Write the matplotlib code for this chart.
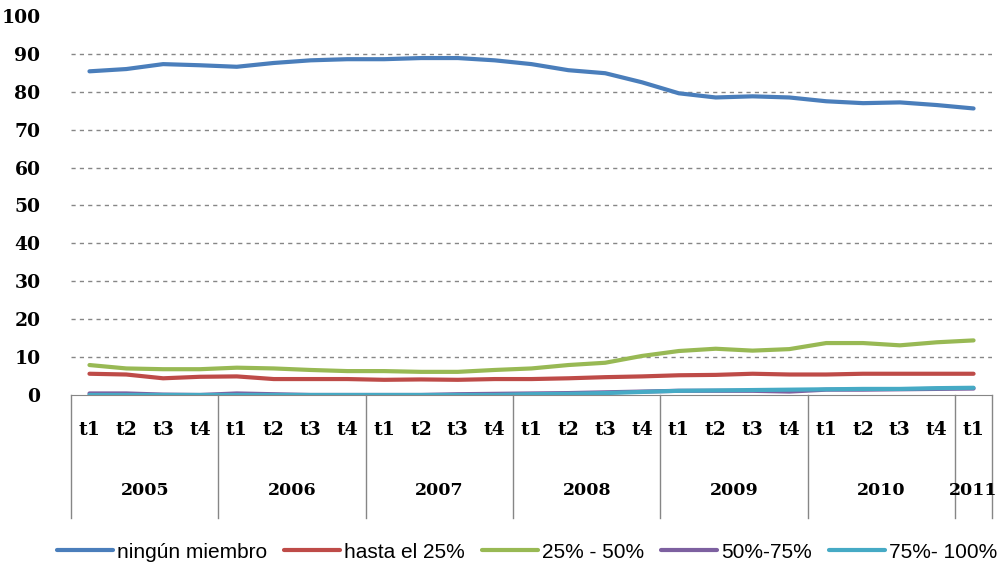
import matplotlib
matplotlib.use('Agg')
import matplotlib.pyplot as plt
import matplotlib.transforms as mtransforms

# data
years = ['2005', '2006', '2007', '2008', '2009', '2010', '2011']
quarters = ['t1', 't2', 't3', 't4'] * 6 + ['t1']

ninguno = [85.4, 86.0, 87.3, 87.0, 86.6, 87.6, 88.3, 88.6, 88.6, 88.9, 88.9, 88.3,
           87.3, 85.7, 84.9, 82.5, 79.6, 78.5, 78.8, 78.5, 77.5, 77.0, 77.2, 76.5, 75.6]
hasta25 = [5.6, 5.4, 4.4, 4.8, 4.9, 4.2, 4.2, 4.2, 4.0, 4.1, 4.0, 4.2,
           4.2, 4.4, 4.7, 4.9, 5.2, 5.3, 5.6, 5.4, 5.4, 5.6, 5.6, 5.6, 5.6]
p25_50 = [7.9, 7.0, 6.8, 6.8, 7.2, 7.0, 6.6, 6.3, 6.3, 6.1, 6.1, 6.6,
          7.0, 7.9, 8.5, 10.3, 11.6, 12.2, 11.7, 12.1, 13.7, 13.7, 13.1, 13.9, 14.4]
p50_75 = [0.4, 0.4, 0.1, 0.0, 0.4, 0.2, 0.0, 0.0, 0.0, 0.0, 0.2, 0.3,
          0.4, 0.5, 0.7, 0.9, 1.1, 1.1, 1.1, 0.9, 1.4, 1.4, 1.5, 1.6, 1.7]
p75_100 = [0.0, 0.0, 0.0, 0.0, 0.0, 0.0, 0.0, 0.0, 0.0, 0.0, 0.0, 0.0,
           0.2, 0.3, 0.5, 0.8, 1.1, 1.2, 1.3, 1.4, 1.5, 1.6, 1.6, 1.8, 1.9]

series = [
    ('ningún miembro', ninguno, '#4A7EBB'),
    ('hasta el 25%', hasta25, '#BE4B48'),
    ('25% - 50%', p25_50, '#98B954'),
    ('50%-75%', p50_75, '#7D60A0'),
    ('75%- 100%', p75_100, '#46AAC5'),
]

fig = plt.figure(figsize=(10.02, 5.67), dpi=100)
ax = fig.add_axes([0.0709, 0.3034, 0.9191, 0.6684])

x = list(range(len(quarters)))
# gridlines 10..90 only (none at the top)
ax.hlines(range(10, 100, 10), -0.5, len(quarters) - 0.5, colors='#868686',
          linestyles=(0, (3, 3)), lw=1, zorder=0)
for name, vals, col in series:
    ax.plot(x, vals, color=col, lw=3, label=name, solid_capstyle='round',
            solid_joinstyle='round')

ax.set_xlim(-0.5, len(quarters) - 0.5)
ax.set_ylim(0, 100)
ax.set_yticks(range(0, 101, 10))
for s in ['top', 'right', 'left']:
    ax.spines[s].set_visible(False)
ax.spines['bottom'].set_color('#868686')
ax.tick_params(axis='y', length=0, pad=22)
for lab in ax.get_yticklabels():
    lab.set_fontfamily('DejaVu Serif')
    lab.set_fontweight('bold')
    lab.set_fontsize(13.5)
ax.set_xticks([])

# two-level category axis
trans = mtransforms.blended_transform_factory(ax.transData, ax.transAxes)
for i, q in enumerate(quarters):
    ax.text(i, -0.092, q, transform=trans, ha='center', va='center',
            fontsize=13.5, fontweight='bold', family='DejaVu Serif')
bounds = [-0.5, 3.5, 7.5, 11.5, 15.5, 19.5, 23.5, 24.5]
for j, yr in enumerate(years):
    mid = (bounds[j] + bounds[j + 1]) / 2
    ax.text(mid, -0.253, yr, transform=trans, ha='center', va='center',
            fontsize=12.5, fontweight='bold', family='DejaVu Serif')
for b in bounds:
    ax.plot([b, b], [0, -0.325], transform=trans, color='#868686', lw=1,
            clip_on=False)

fig.legend(loc='center', bbox_to_anchor=(0.526, 1 - 552 / 567), ncol=5,
           frameon=False, handlelength=2.7, handletextpad=0.2,
           columnspacing=0.8,
           prop={'family': 'Liberation Sans', 'size': 15})

fig.savefig('out.png', dpi=100)
